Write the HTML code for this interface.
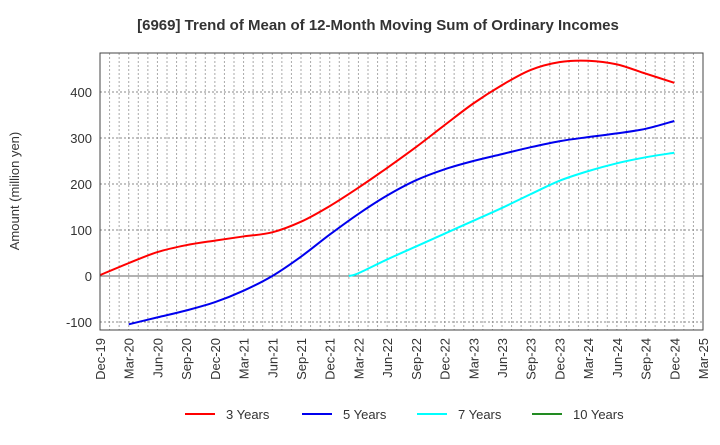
<!DOCTYPE html>
<html><head><meta charset="utf-8"><style>
body{margin:0;background:#fff;font-family:"Liberation Sans",Arial,sans-serif}
svg text{font-family:"Liberation Sans",Arial,sans-serif}
</style></head><body>
<svg id="chart" width="720" height="440" xmlns="http://www.w3.org/2000/svg">
<text x="378" y="30" text-anchor="middle" font-size="15" font-weight="bold" fill="#333">[6969]  Trend of Mean of 12-Month Moving Sum of Ordinary Incomes</text>
<text transform="translate(19,191) rotate(-90)" text-anchor="middle" font-size="13" fill="#333">Amount (million yen)</text>
<g id="grid"></g><g id="series"></g><g id="axes"></g><g id="legend"></g>
</svg>
<script>
const xLabels=["Dec-19","Mar-20","Jun-20","Sep-20","Dec-20","Mar-21","Jun-21","Sep-21","Dec-21","Mar-22","Jun-22","Sep-22","Dec-22","Mar-23","Jun-23","Sep-23","Dec-23","Mar-24","Jun-24","Sep-24","Dec-24","Mar-25"];
const yTicks=[-100,0,100,200,300,400];
const months3=[0,3,6,9,12,15,18,21,24,27,30,33,36,39,42,45,48,51,54,57,60];
const vals3=[2,28,52,67,77,86,95,118,152,192,235,280,328,375,415,448,465,468,460,440,420];
const months5=[3,6,9,12,15,18,21,24,27,30,33,36,39,42,45,48,51,54,57,60];
const vals5=[-105,-90,-75,-57,-32,0,42,90,135,175,208,232,250,265,280,293,302,310,320,337];
const months7=[26,27,30,33,36,39,42,45,48,51,54,57,60];
const vals7=[0,6,36,64,92,120,148,178,207,228,245,258,268];
const seriesNames=["3 Years","5 Years","7 Years","10 Years"];
const colors=["#ff0000","#0000ee","#00ffff","#228b22"];
const X0=100,X1=703,Y0=53,Y1=330,NM=63;
const xs=m=>X0+(X1-X0)*m/NM;
const ys=v=>276-v*0.46;
const NS="http://www.w3.org/2000/svg";
function mk(t,a,p){const e=document.createElementNS(NS,t);for(const k in a)e.setAttribute(k,a[k]);p.appendChild(e);return e;}
const grid=document.getElementById('grid');
mk('rect',{x:X0,y:Y0,width:X1-X0,height:Y1-Y0,fill:'#fff'},grid);
for(let m=1;m<NM;m++){const l=mk('line',{x1:xs(m),x2:xs(m),y1:Y0,y2:Y1,stroke:'#aaa','stroke-dasharray':'2,2','stroke-width':1},grid);

}
const axes=document.getElementById('axes');
yTicks.forEach(v=>{const l=mk('line',{x1:X0,x2:X1,y1:ys(v),y2:ys(v),stroke:v===0?'#666':'#888','stroke-dasharray':v===0?'':'2,2','stroke-width':1},grid);


const t=mk('text',{x:X0-8,y:ys(v)+5,'text-anchor':'end','font-size':13,fill:'#333'},axes);t.textContent=v;

});
xLabels.forEach((s,i)=>{const x=xs(i*3);const t=mk('text',{transform:`translate(${x+5},338) rotate(-90)`,'text-anchor':'end','font-size':13,fill:'#333'},axes);t.textContent=s;

});
const fr=mk('rect',{x:X0,y:Y0,width:X1-X0,height:Y1-Y0,fill:'none',stroke:'#444','stroke-width':1},axes);


function path(ms,vs){const p=ms.map((m,i)=>[xs(m),ys(vs[i])]);let d=`M${p[0][0]},${p[0][1]}`;
for(let i=0;i<p.length-1;i++){const a=p[i-1]||p[i],b=p[i],c=p[i+1],e=p[i+2]||c;
d+=` C${b[0]+(c[0]-a[0])/6},${b[1]+(c[1]-a[1])/6} ${c[0]-(e[0]-b[0])/6},${c[1]-(e[1]-b[1])/6} ${c[0]},${c[1]}`;}return d;}
const sg=document.getElementById('series');
[[months3,vals3],[months5,vals5],[months7,vals7]].forEach((s,i)=>{const l=mk('path',{d:path(s[0],s[1]),fill:'none',stroke:colors[i],'stroke-width':2},sg);

});
const lg=document.getElementById('legend');
const lx=[185,302,417,532];
seriesNames.forEach((n,i)=>{const g=mk('g',{},lg);


mk('line',{x1:lx[i],x2:lx[i]+30,y1:414,y2:414,stroke:colors[i],'stroke-width':2},g);
const t=mk('text',{x:lx[i]+41,y:419,'font-size':13,fill:'#333'},g);t.textContent=n;});
</script>
</body></html>
